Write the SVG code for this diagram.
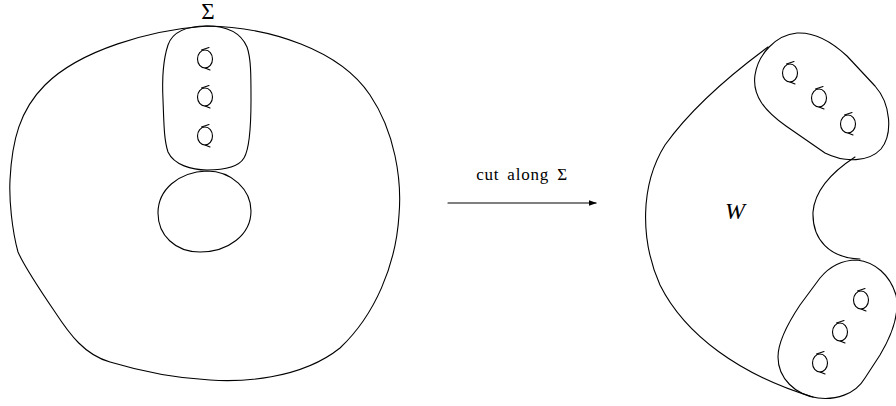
<svg xmlns="http://www.w3.org/2000/svg" width="896" height="406" viewBox="0 0 896 406">
<style>
.ln{fill:none;stroke:#000;stroke-width:1.1;stroke-linejoin:round;stroke-linecap:round}
.tx{font-family:'Liberation Serif','DejaVu Serif',serif;fill:#000}
</style>
<defs>
<g id="loop">
<ellipse class="ln" cx="0" cy="0" rx="7.5" ry="9"/>
<path class="ln" d="M-3.5,-9 L4,-11.5 M0,9 L5,11"/>
</g>
<marker id="ah" viewBox="0 0 10 10" refX="9" refY="5" markerWidth="8" markerHeight="8" markerUnits="userSpaceOnUse" orient="auto">
<path d="M0,1.5 L10,5 L0,8.5 Z" fill="#000"/>
</marker>
</defs>
<rect width="896" height="406" fill="#fff"/>
<g id="left-surface">
<path class="ln" d="M207,26 C270,27 340,50 370,95 C395,132 402,180 399,215 C396,265 375,315 340,348 C300,380 240,382 210,380 C170,378 130,368 110,362 C85,355 70,335 55,312 C40,290 25,268 18,252 C12,230 9,200 10,180 C12,140 20,110 45,85 C80,50 150,30 207,26 Z"/>
</g>
<g id="sigma-region">
<path class="ln" d="M207,26 C185,26 172,33 168,45 C163,60 162,80 163,100 C164,125 164,140 168,152 C174,165 192,170 207,170 C222,170 238,168 244,158 C250,148 251,125 251,100 C251,75 251,58 247,47 C241,33 228,26 207,26 Z"/>
<use href="#loop" x="205" y="59"/>
<use href="#loop" x="205" y="97"/>
<use href="#loop" x="205" y="136"/>
<text class="tx" x="208" y="19" font-size="23" text-anchor="middle" font-family="Liberation Serif, DejaVu Serif, serif">Σ</text>
</g>
<g id="hole">
<path class="ln" d="M207,171 C232,171 251,190 251,211 C251,235 228,252 200,252 C175,252 158,235 158,213 C158,190 178,172 207,171 Z"/>
</g>
<g id="right-surface">
<path class="ln" d="M768,47 C730,75 690,110 665,145 C640,185 640,240 660,285 C685,335 740,375 813,397"/>
<path class="ln" d="M855,157 C835,170 815,188 813,212 C812,240 830,258 860,259"/>
<text class="tx" x="735" y="219" font-size="24" font-style="italic" text-anchor="middle" font-family="Liberation Serif, DejaVu Serif, serif">W</text>
</g>
<g id="top-cap">
<path class="ln" d="M797,33 C815,32 832,42 847,56 L875,86 C891,104 893,134 881,149 C869,162 845,163 825,153 L786,126 C765,111 752,96 755,75 C758,55 775,35 797,33 Z"/>
<use href="#loop" x="790" y="73"/>
<use href="#loop" x="819" y="98"/>
<use href="#loop" x="848" y="124"/>
</g>
<g id="bottom-cap">
<path class="ln" d="M857,260 C875,262 890,275 896,295 C900,315 892,335 880,355 L865,378 C855,395 835,400 818,398 C795,395 778,378 778,357 C778,340 790,320 800,305 L820,278 C830,266 843,260 857,260 Z"/>
<use href="#loop" x="861" y="300"/>
<use href="#loop" x="840" y="332"/>
<use href="#loop" x="820" y="363"/>
</g>
<g id="connectors">
<line class="ln" x1="448" y1="203" x2="596" y2="203" marker-end="url(#ah)"/>
<text class="tx" x="522" y="180" font-size="17" letter-spacing="0.8" word-spacing="3" text-anchor="middle" font-family="Liberation Serif, DejaVu Serif, serif">cut along Σ</text>
</g>
</svg>
